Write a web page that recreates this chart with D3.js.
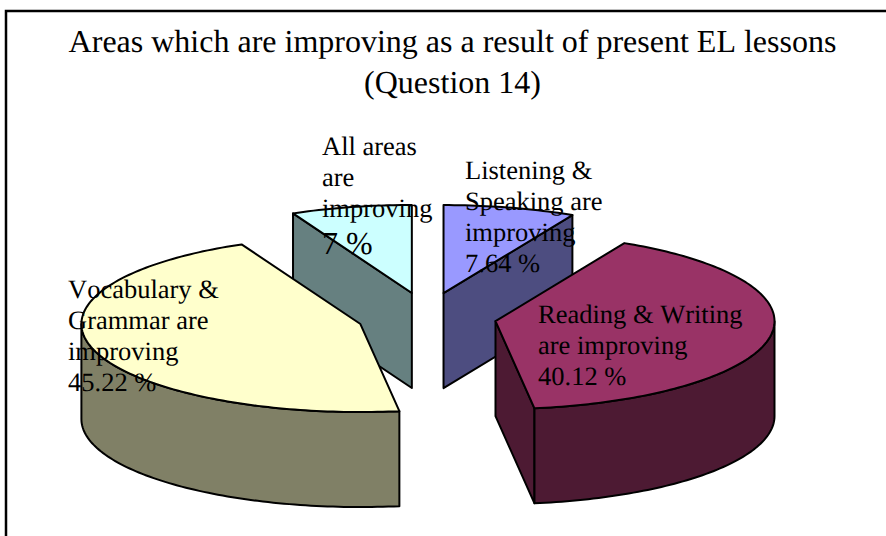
<!DOCTYPE html>
<html><head><meta charset="utf-8">
<style>html,body{margin:0;padding:0;background:#fff}svg{display:block}text{font-family:"Liberation Serif","Times New Roman",serif;fill:#000;font-kerning:none;text-rendering:geometricPrecision}</style>
<script src="https://cdnjs.cloudflare.com/ajax/libs/d3/7.8.5/d3.min.js"></script>
</head><body><div id="c"></div>
<script>
const titleLines=["Areas which are improving as a result of present EL lessons","(Question 14)"];
const categories=[["Listening &","Speaking are","improving"],["Reading & Writing","are improving"],["Vocabulary &","Grammar are","improving"],["All areas","are","improving"]];
const values=[7.64,40.12,45.22,7];
const valueLabels=["7.64 %","40.12 %","45.22 %","7 %"];
const topColors=["#9999FF","#993366","#FFFFCC","#CCFFFF"];
const sideColors=["#4D4D80","#4D1A33","#808066","#668080"];

const W=886,H=536,cx=427,cy=317,rx=279,ry=88,depth=95,exX=69.5,exY=24.6;
const labelPos=[[465,179],[538,323],[68,298],[322,155]];
const labelStep=31,labelSize=26.5;
const valueSize=[26.5,26.5,26.5,32];

const svg=d3.select("#c").append("svg").attr("width",W).attr("height",H);
svg.append("rect").attr("x",6).attr("y",11).attr("width",W+20).attr("height",H+20)
  .attr("fill","#fff").attr("stroke","#000").attr("stroke-width",2.5);

const xs=d3.scaleLinear().domain([-1,1]).range([-rx,rx]);
const ys=d3.scaleLinear().domain([-1,1]).range([-ry,ry]);
const line=d3.line();
const arcs=d3.pie().sort(null).startAngle(0).endAngle(2*Math.PI)(values);
const unit=a=>[Math.sin(a),-Math.cos(a)];
const samples=(a0,a1)=>{const n=Math.max(2,Math.ceil((a1-a0)/0.02));return d3.range(n+1).map(i=>a0+(a1-a0)*i/n);};

const order=[3,0,1,2];
order.forEach(i=>{
  const d=arcs[i],g=svg.append("g");
  const mid=(d.startAngle+d.endAngle)/2,[mx,my]=unit(mid);
  const ax=cx+mx*exX,ay=cy+my*exY;
  const pt=a=>{const [u,v]=unit(a);return [ax+xs(u),ay+ys(v)];};
  const wall=(a)=>[[ax,ay],pt(a),[pt(a)[0],pt(a)[1]+depth],[ax,ay+depth]];
  const style=(sel,c)=>sel.attr("fill",c).attr("stroke","#000").attr("stroke-width",2).attr("stroke-linejoin","round");
  if(Math.sin(d.startAngle)<0) style(g.append("path").attr("d",line(wall(d.startAngle))+"Z"),sideColors[i]);
  if(Math.sin(d.endAngle)>0) style(g.append("path").attr("d",line(wall(d.endAngle))+"Z"),sideColors[i]);
  const o0=Math.max(d.startAngle,Math.PI/2),o1=Math.min(d.endAngle,3*Math.PI/2);
  if(o1>o0){
    const top=samples(o0,o1).map(pt);
    const bot=top.slice().reverse().map(p=>[p[0],p[1]+depth]);
    style(g.append("path").attr("d",line(top.concat(bot))+"Z"),sideColors[i]);
  }
  style(g.append("path").attr("d",line([[ax,ay]].concat(samples(d.startAngle,d.endAngle).map(pt)))+"Z"),topColors[i]);
});

svg.selectAll(".title").data(titleLines).join("text").attr("class","title")
  .attr("x",452.5).attr("y",(d,i)=>52+i*41).attr("text-anchor","middle").attr("font-size",32).text(d=>d);

categories.forEach((lines,i)=>{
  const [x,y]=labelPos[i];
  const t=svg.append("g");
  lines.forEach((s,j)=>t.append("text").attr("x",x).attr("y",y+j*labelStep).attr("font-size",labelSize).text(s));
  t.append("text").attr("x",x).attr("y",y+lines.length*labelStep+(i===3?6:0)).attr("font-size",valueSize[i]).text(valueLabels[i]);
});
</script></body></html>
